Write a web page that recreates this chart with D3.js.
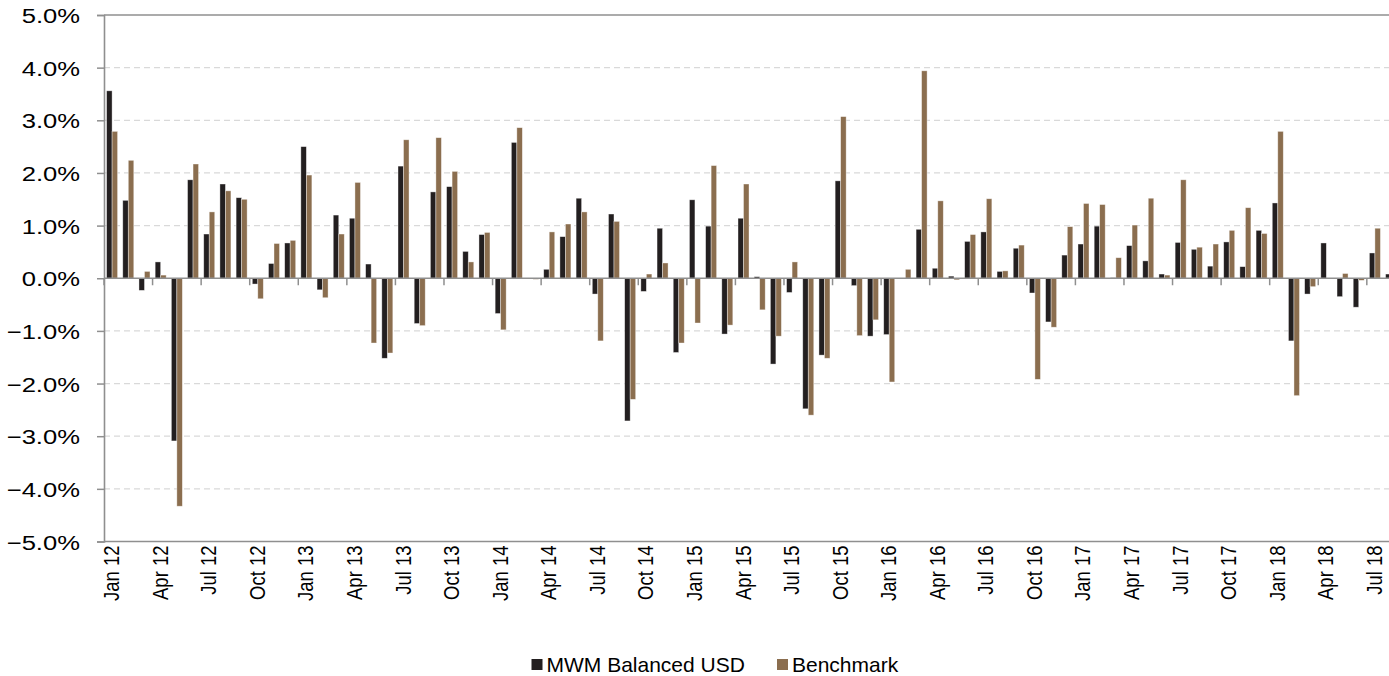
<!DOCTYPE html>
<html>
<head>
<meta charset="utf-8">
<script src="https://cdn.jsdelivr.net/npm/d3@7"></script>
<style>
  html, body { margin: 0; padding: 0; background: #fff; }
  svg { display: block; font-family: "Liberation Sans", Arial, sans-serif; }
</style>
</head>
<body>
<svg id="chart" width="1389" height="676"></svg>
<script>
const months = [
  "Jan 12","Feb 12","Mar 12","Apr 12","May 12","Jun 12","Jul 12","Aug 12","Sep 12","Oct 12","Nov 12","Dec 12",
  "Jan 13","Feb 13","Mar 13","Apr 13","May 13","Jun 13","Jul 13","Aug 13","Sep 13","Oct 13","Nov 13","Dec 13",
  "Jan 14","Feb 14","Mar 14","Apr 14","May 14","Jun 14","Jul 14","Aug 14","Sep 14","Oct 14","Nov 14","Dec 14",
  "Jan 15","Feb 15","Mar 15","Apr 15","May 15","Jun 15","Jul 15","Aug 15","Sep 15","Oct 15","Nov 15","Dec 15",
  "Jan 16","Feb 16","Mar 16","Apr 16","May 16","Jun 16","Jul 16","Aug 16","Sep 16","Oct 16","Nov 16","Dec 16",
  "Jan 17","Feb 17","Mar 17","Apr 17","May 17","Jun 17","Jul 17","Aug 17","Sep 17","Oct 17","Nov 17","Dec 17",
  "Jan 18","Feb 18","Mar 18","Apr 18","May 18","Jun 18","Jul 18","Aug 18"
];
const tickLabels = ["Jan 12","Apr 12","Jul 12","Oct 12","Jan 13","Apr 13","Jul 13","Oct 13","Jan 14","Apr 14","Jul 14","Oct 14",
  "Jan 15","Apr 15","Jul 15","Oct 15","Jan 16","Apr 16","Jul 16","Oct 16","Jan 17","Apr 17","Jul 17","Oct 17","Jan 18","Apr 18","Jul 18"];
const seriesNames = ["MWM Balanced USD", "Benchmark"];
const mwm = [
  3.56, 1.48, -0.23, 0.31, -3.09, 1.87, 0.84, 1.79, 1.53, -0.11, 0.28, 0.67,
  2.50, -0.22, 1.20, 1.14, 0.27, -1.52, 2.13, -0.86, 1.64, 1.74, 0.51, 0.83,
  -0.67, 2.58, 0.00, 0.17, 0.79, 1.52, -0.30, 1.22, -2.71, -0.25, 0.95, -1.41,
  1.49, 0.99, -1.06, 1.14, 0.03, -1.63, -0.27, -2.48, -1.46, 1.85, -0.14, -1.10,
  -1.07, 0.00, 0.93, 0.19, 0.04, 0.70, 0.88, 0.13, 0.57, -0.28, -0.83, 0.44,
  0.65, 0.99, 0.01, 0.62, 0.33, 0.08, 0.68, 0.55, 0.23, 0.69, 0.22, 0.91,
  1.43, -1.19, -0.30, 0.67, -0.35, -0.55, 0.48, 0.08
];
const benchmark = [
  2.79, 2.24, 0.13, 0.06, -4.33, 2.17, 1.26, 1.66, 1.50, -0.39, 0.66, 0.72,
  1.96, -0.37, 0.84, 1.82, -1.23, -1.42, 2.63, -0.90, 2.67, 2.03, 0.31, 0.87,
  -0.98, 2.86, -0.02, 0.88, 1.03, 1.26, -1.19, 1.08, -2.30, 0.08, 0.29, -1.23,
  -0.85, 2.14, -0.89, 1.79, -0.60, -1.10, 0.31, -2.60, -1.52, 3.07, -1.09, -0.79,
  -1.97, 0.17, 3.94, 1.47, -0.03, 0.83, 1.51, 0.14, 0.63, -1.92, -0.93, 0.98,
  1.42, 1.40, 0.39, 1.01, 1.52, 0.06, 1.87, 0.59, 0.65, 0.91, 1.34, 0.85,
  2.79, -2.23, -0.16, 0.00, 0.09, -0.04, 0.95, 0.00
];
const yTicks = [5, 4, 3, 2, 1, 0, -1, -2, -3, -4, -5];
const colors = ["#231f20", "#8b6e4f"];

const svg = d3.select("#chart");
const plotLeft = 104, plotTop = 15, plotBottom = 541.5;
const step = 16.19;
const plotRight = plotLeft + step * months.length;

const x0 = d3.scaleBand().domain(months).range([plotLeft, plotRight]).padding(0);
const x1 = d3.scaleBand().domain(seriesNames).range([0, x0.bandwidth()]).paddingInner(0).paddingOuter(0.47);
const y = d3.scaleLinear().domain([-5, 5]).range([plotBottom, plotTop]);

// gridlines
svg.append("g").selectAll("line")
  .data(yTicks.filter(d => d !== 0 && Math.abs(d) !== 5))
  .join("line")
  .attr("x1", plotLeft).attr("x2", plotRight)
  .attr("y1", d => y(d)).attr("y2", d => y(d))
  .attr("stroke", "#d9d9d9").attr("stroke-width", 1.2)
  .attr("stroke-dasharray", "6,4");

// top and bottom solid lines
svg.append("g").selectAll("line")
  .data([5, -5])
  .join("line")
  .attr("x1", plotLeft).attr("x2", plotRight)
  .attr("y1", d => y(d)).attr("y2", d => y(d))
  .attr("stroke", "#8f8f8f").attr("stroke-width", 1.5);

// bars
const rows = months.map((m, i) => ({ m, vals: [mwm[i], benchmark[i]] }));
const groups = svg.append("g").selectAll("g")
  .data(rows)
  .join("g")
  .attr("transform", d => `translate(${x0(d.m)},0)`);
groups.selectAll("rect")
  .data(d => d.vals.map((v, k) => ({ v, s: seriesNames[k], k })))
  .join("rect")
  .attr("x", d => x1(d.s))
  .attr("width", x1.bandwidth())
  .attr("y", d => y(Math.max(0, d.v)))
  .attr("height", d => Math.abs(y(d.v) - y(0)))
  .attr("fill", d => colors[d.k])
  .attr("stroke", "#ffffff")
  .attr("stroke-opacity", 0.55)
  .attr("stroke-width", 0.7);

// zero axis line
svg.append("line")
  .attr("x1", plotLeft).attr("x2", plotRight)
  .attr("y1", y(0)).attr("y2", y(0))
  .attr("stroke", "#8f8f8f").attr("stroke-width", 1.6);

// x ticks at category boundaries of labelled months
svg.append("g").selectAll("line")
  .data(tickLabels)
  .join("line")
  .attr("x1", d => x0(d)).attr("x2", d => x0(d))
  .attr("y1", y(0)).attr("y2", y(0) + 7)
  .attr("stroke", "#8f8f8f").attr("stroke-width", 1.5);

// y axis
const yAxis = d3.axisLeft(y).tickValues(yTicks).tickSize(7).tickFormat(d => d3.format(".1f")(d) + "%");
const ya = svg.append("g").attr("transform", `translate(${plotLeft},0)`).call(yAxis);
ya.select(".domain").attr("stroke", "#8f8f8f").attr("stroke-width", 1.6);
ya.selectAll(".tick line").attr("stroke", "#8f8f8f").attr("stroke-width", 1.5);
ya.selectAll(".tick text")
  .attr("x", null).attr("dy", null)
  .attr("font-size", 21).attr("fill", "#000")
  .attr("text-anchor", "end")
  .attr("transform", "translate(-24,7.5) scale(1.22,1)");

// x labels
svg.append("g").selectAll("text")
  .data(tickLabels)
  .join("text")
  .attr("transform", d => `translate(${x0(d) + x0.bandwidth() / 2 + 7},${plotBottom + 4}) scale(1.15,1) rotate(-90)`)
  .attr("text-anchor", "end")
  .attr("font-size", 18.5)
  .attr("fill", "#000")
  .text(d => d);

// legend
const legendX = [531.5, 777];
const lg = svg.append("g").selectAll("g")
  .data(seriesNames)
  .join("g")
  .attr("transform", (d, i) => `translate(${legendX[i]},0)`);
lg.append("rect")
  .attr("x", 0).attr("y", 659).attr("width", 11).attr("height", 11)
  .attr("fill", (d, i) => colors[i]);
lg.append("text")
  .attr("x", 15).attr("y", 672)
  .attr("font-size", 21).attr("fill", "#000")
  .text(d => d);
</script>
</body>
</html>
